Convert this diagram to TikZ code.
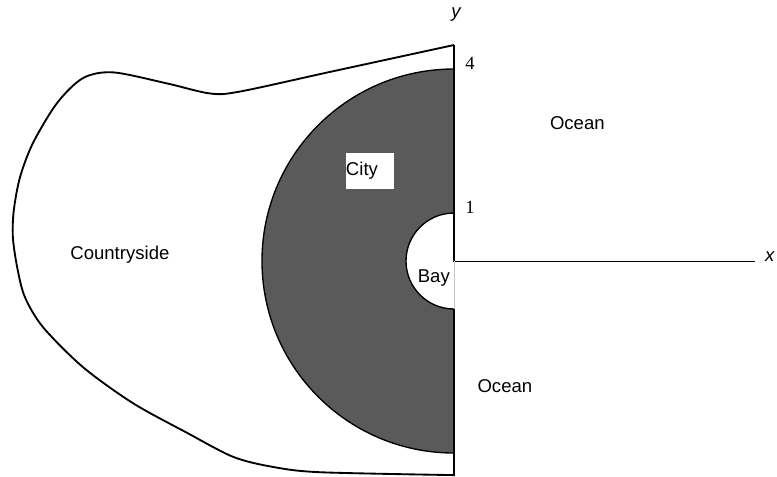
\documentclass[tikz,border=0pt]{standalone}
\usepackage{fontspec}
\setmainfont{Liberation Serif}
\newfontfamily\arial{Liberation Sans}
\usepackage{xcolor}
\usepackage{tikz}
\definecolor{dgray}{RGB}{90, 90, 90}
\definecolor{lgray}{RGB}{200, 200, 200}

\begin{document}
\begin{tikzpicture}[font = \arial\fontsize{11}{13}\selectfont]
			\useasboundingbox (-9.458,-4.479) rectangle (6.729,5.4375);
			\coordinate (o) at (0,0);
			\coordinate (top) at (0,4.5);
			\coordinate (xend) at (6.27,0);
			\coordinate (ybot) at (0,-4.479);
			\coordinate (bayb) at (0,-1);
			% city
			\draw[fill = dgray, line width = 0.8pt] (0,4) arc (90:270:4) -- (0,-1) arc (270:90:1) -- cycle;
			% countryside
			\draw[line width = 1.1pt] plot[smooth, tension = 0.5] coordinates {(0,4.5) (-2.58,3.94) (-4.46,3.53) (-5.08,3.49) (-5.98,3.70) (-7.10,3.93) (-7.73,3.81) (-8.27,3.29) (-8.77,2.46) (-9.04,1.75) (-9.17,1.06) (-9.19,0.5) (-9.10,-0.13) (-8.94,-0.75) (-8.56,-1.38) (-7.73,-2.21) (-6.69,-2.96) (-5.56,-3.58) (-4.60,-4.08) (-3.77,-4.29) (-2.79,-4.40) (0,-4.46)};
			% axes
			\draw[line width = 0.6pt] (top) -- (o) -- (xend);
			\draw[line width = 0.6pt] (bayb) -- (ybot);
			\draw[lgray, line width = 0.4pt] (o) -- (bayb);
			\node (x) at (6.58,0.083) {\itshape x};
			\node (y) at (0.04,5.125) {\itshape y};
			\node (four) at (0.333,4.125) [font = \rmfamily\fontsize{11}{13}\selectfont] {4};
			\node (one) at (0.333,1.125) [font = \rmfamily\fontsize{11}{13}\selectfont] {1};
			\node (city) at (-1.75,1.875) [fill = white, minimum width = 1cm, minimum height = 0.75cm, inner sep = 0pt, text width = 1cm] {City};
			\node (bay) at (-0.42,-0.354) {Bay};
			\node (country) at (-6.96,0.125) {Countryside};
			\node (oceanu) at (2.57,2.875) {Ocean};
			\node (oceanl) at (1.06,-2.6) {Ocean};
			\end{tikzpicture}
\end{document}
